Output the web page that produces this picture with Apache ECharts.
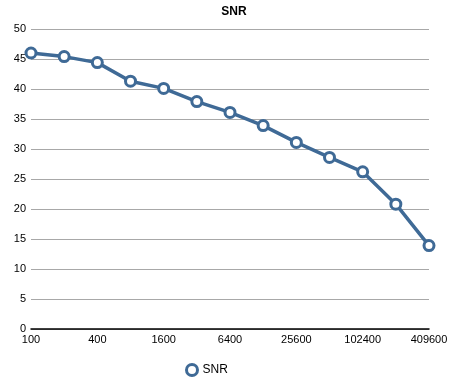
<!DOCTYPE html>
<html><head><meta charset="utf-8">
<script src="https://cdn.jsdelivr.net/npm/echarts@6/dist/echarts.min.js"></script>
<style>html,body{margin:0;padding:0;background:#fff}#c{width:452px;height:382px}</style>
</head><body><div id="c"></div>
<script>
var categories = ['100','200','400','800','1600','3200','6400','12800','25600','51200','102400','204800','409600'];
var snr = [46.0, 45.4, 44.4, 41.3, 40.1, 37.9, 36.1, 33.9, 31.1, 28.6, 26.2, 20.8, 13.9];
var chart = echarts.init(document.getElementById('c'));
var font = '"Liberation Sans", Arial, sans-serif';
chart.setOption({
  animation: false,
  title: { text: 'SNR', left: 229, textAlign: 'center', top: 1,
    textStyle: { fontFamily: font, fontSize: 12, fontWeight: 'bold', color: '#000' } },
  legend: { data: ['SNR'], icon: 'circle', left: 180, top: 358, itemWidth: 11, itemHeight: 11, itemGap: 6,
    itemStyle: { color: '#fff', borderColor: '#3f6a96', borderWidth: 3 },
    lineStyle: { width: 0, opacity: 0 },
    textStyle: { fontFamily: font, fontSize: 12, color: '#000' } },
  grid: { left: 31, right: 23, top: 29, bottom: 53 },
  xAxis: { type: 'category', data: categories, boundaryGap: false,
    axisLine: { lineStyle: { color: '#000', width: 1.5 } },
    axisTick: { show: false },
    axisLabel: { interval: 1, color: '#000', fontFamily: font, fontSize: 11, margin: 5 } },
  yAxis: { type: 'value', min: 0, max: 50, interval: 5,
    axisLine: { show: false }, axisTick: { show: false },
    splitLine: { lineStyle: { color: '#a8a8a8', width: 1 } },
    axisLabel: { color: '#000', fontFamily: font, fontSize: 11, margin: 5 } },
  series: [{ name: 'SNR', type: 'line', data: snr, symbol: 'circle', symbolSize: 10,
    lineStyle: { color: '#3f6a96', width: 3.5 },
    itemStyle: { color: '#fff', borderColor: '#3f6a96', borderWidth: 3 } }]
});
</script></body></html>
